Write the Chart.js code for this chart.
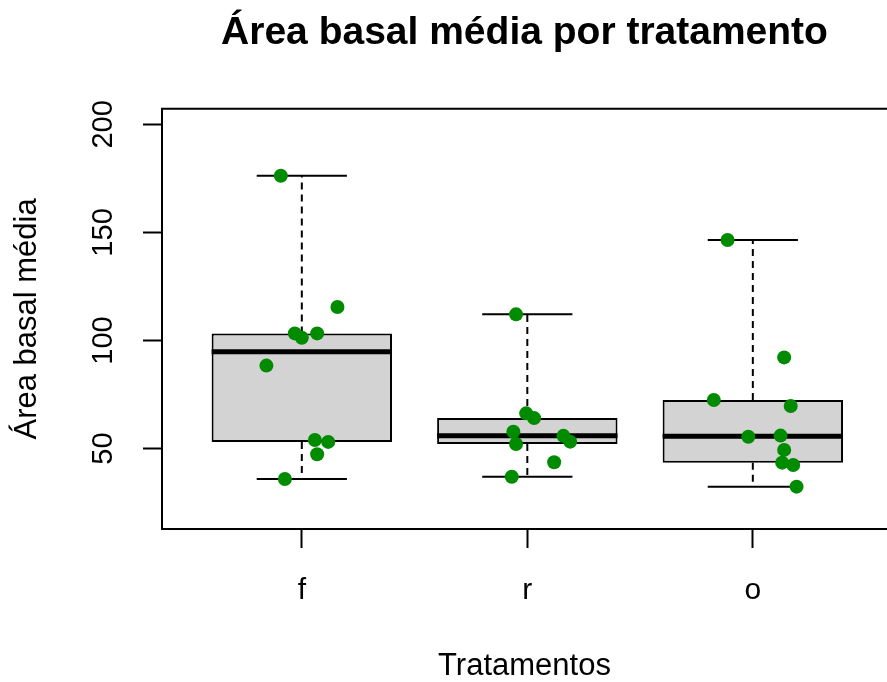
<!DOCTYPE html>
<html>
<head>
<meta charset="utf-8">
<script src="https://cdn.jsdelivr.net/npm/chart.js@4/dist/chart.umd.min.js"></script>
<style>
  html, body { margin: 0; padding: 0; background: #fff; }
  canvas { display: block; }
</style>
</head>
<body>
<canvas id="chart" width="887" height="682"></canvas>
<script>
// treatments on the x axis
const categories = ['f', 'r', 'o'];

// mean basal area per plot
const valuesF = [176.2, 115.5, 103.3, 101.3, 103.3, 88.4, 54.0, 53.1, 47.4, 35.9];
const valuesR = [112.1, 66.3, 64.1, 57.8, 52.1, 55.9, 53.2, 43.7, 37.0];
const valuesO = [146.5, 92.2, 72.5, 69.7, 55.5, 56.0, 49.4, 43.5, 42.4, 32.4];

// horizontal jitter of each point (category units)
const jitterF = [-0.093, 0.158, -0.031, 0.0, 0.068, -0.157, 0.058, 0.117, 0.068, -0.075];
const jitterR = [-0.050, -0.005, 0.030, -0.062, -0.050, 0.160, 0.190, 0.119, -0.069];
const jitterO = [-0.112, 0.139, -0.173, 0.168, -0.020, 0.123, 0.139, 0.130, 0.179, 0.194];

const yTicks = [50, 100, 150, 200];

const FONT = 'Liberation Sans, Arial, sans-serif';
const BOX_HALF = 0.4;
const STAPLE_HALF = 0.2;

// same as R's fivenum: min, lower hinge, median, upper hinge, max
function fivenum(arr) {
  const x = [...arr].sort((a, b) => a - b);
  const n = x.length;
  const n4 = Math.floor((n + 3) / 2) / 2;
  const d = [1, n4, (n + 1) / 2, n + 1 - n4, n];
  return d.map(k => 0.5 * (x[Math.floor(k) - 1] + x[Math.ceil(k) - 1]));
}

const groups = [valuesF, valuesR, valuesO];
const jitters = [jitterF, jitterR, jitterO];
const stats = groups.map(fivenum);

const seg = (data, extra) => Object.assign({
  type: 'line',
  data,
  borderColor: '#000',
  borderWidth: 2,
  pointRadius: 0,
  fill: false,
  tension: 0
}, extra);

const datasets = [];

datasets.push({
  type: 'scatter',
  data: groups.flatMap((vals, i) => vals.map((v, j) => ({ x: i + 1 + jitters[i][j], y: v }))),
  pointRadius: 7,
  pointHoverRadius: 7,
  backgroundColor: '#008B00',
  borderWidth: 0,
  order: 0
});

stats.forEach((s, i) => {
  const c = i + 1;
  datasets.push(seg([{ x: c - BOX_HALF, y: s[2] }, { x: c + BOX_HALF, y: s[2] }], { borderWidth: 5, order: 1 }));
  datasets.push(seg([{ x: c, y: s[3] }, { x: c, y: s[4] }], { borderDash: [7, 5], order: 2 }));
  datasets.push(seg([{ x: c, y: s[1] }, { x: c, y: s[0] }], { borderDash: [7, 5], order: 2 }));
  datasets.push(seg([{ x: c - STAPLE_HALF, y: s[4] }, { x: c + STAPLE_HALF, y: s[4] }], { order: 2 }));
  datasets.push(seg([{ x: c - STAPLE_HALF, y: s[0] }, { x: c + STAPLE_HALF, y: s[0] }], { order: 2 }));
});

datasets.push({
  type: 'bar',
  data: stats.map((s, i) => ({ x: i + 1, y: [s[1], s[3]] })),
  backgroundColor: '#D3D3D3',
  borderColor: '#000',
  borderWidth: 2,
  borderSkipped: false,
  barPercentage: 0.8,
  categoryPercentage: 1,
  order: 3
});

// top and bottom edges of the plot frame (right edge falls outside the picture)
const frame = {
  id: 'frame',
  afterDraw(chart) {
    const { ctx, chartArea: a } = chart;
    ctx.save();
    ctx.strokeStyle = '#000';
    ctx.lineWidth = 2;
    ctx.beginPath();
    ctx.moveTo(a.left - 1, a.top);
    ctx.lineTo(chart.width, a.top);
    ctx.moveTo(a.left - 1, a.bottom);
    ctx.lineTo(chart.width, a.bottom);
    ctx.stroke();
    ctx.restore();
  }
};

const axisGrid = {
  offset: false,
  drawOnChartArea: false,
  drawTicks: true,
  tickLength: 19,
  tickWidth: 2,
  tickColor: '#000'
};

new Chart(document.getElementById('chart'), {
  type: 'bar',
  data: { datasets },
  plugins: [frame],
  options: {
    responsive: false,
    animation: false,
    layout: { padding: 0, autoPadding: false },
    plugins: {
      legend: { display: false },
      tooltip: { enabled: false },
      title: {
        display: true,
        text: 'Área basal média por tratamento',
        fullSize: false,
        color: '#000',
        font: { family: FONT, size: 39, weight: 'bold' },
        padding: { top: 10, bottom: 52 }
      }
    },
    scales: {
      x: {
        type: 'linear',
        offset: false,
        min: 0.38,
        max: 3.595,
        afterBuildTicks: (s) => { s.ticks = categories.map((_, i) => ({ value: i + 1 })); },
        afterFit: (s) => { s.height = 153; s.paddingLeft = 0; s.paddingRight = 0; },
        ticks: {
          callback: (v, i) => categories[i],
          color: '#000',
          font: { family: FONT, size: 30 },
          padding: 25,
          maxRotation: 0,
          autoSkip: false
        },
        grid: axisGrid,
        border: { display: false },
        title: {
          display: true,
          text: 'Tratamentos',
          color: '#000',
          font: { family: FONT, size: 31 },
          padding: { top: 0, bottom: -3 }
        }
      },
      y: {
        min: 12.8,
        max: 207.2,
        afterBuildTicks: (s) => { s.ticks = yTicks.map(v => ({ value: v })); },
        afterFit: (s) => { s.width = 162; },
        ticks: {
          color: '#000',
          font: { family: FONT, size: 29 },
          padding: 15,
          minRotation: 90,
          maxRotation: 90,
          crossAlign: 'center'
        },
        grid: axisGrid,
        border: { display: true, color: '#000', width: 2 },
        title: {
          display: true,
          text: 'Área basal média',
          color: '#000',
          font: { family: FONT, size: 31 },
          padding: { top: 9, bottom: 0 }
        }
      }
    }
  }
});
</script>
</body>
</html>
